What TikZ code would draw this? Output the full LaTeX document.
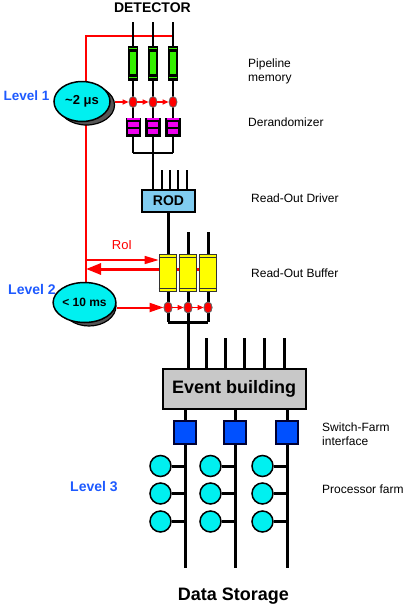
\documentclass[tikz,border=0pt]{standalone}
\usepackage{fontspec}
\setmainfont{Liberation Sans}
\usetikzlibrary{arrows.meta,shapes.geometric,calc}
\definecolor{lvlblue}{RGB}{30,90,255}
\definecolor{cyanfill}{RGB}{0,240,240}
\definecolor{pipegreen}{RGB}{51,240,0}
\definecolor{dermag}{RGB}{240,0,240}
\definecolor{robyellow}{RGB}{255,255,0}
\definecolor{swblue}{RGB}{0,80,255}
\definecolor{rodblue}{RGB}{128,204,240}
\definecolor{evgray}{RGB}{200,200,200}
\definecolor{shadowgray}{RGB}{85,85,85}
\definecolor{sigred}{RGB}{255,0,0}
\tikzset{
  thinwire/.style={line width=1.5pt,black},
  midwire/.style={line width=2.5pt,black},
  wire/.style={line width=3pt,black},
  redwire/.style={sigred,line width=1.5pt},
  lvl/.style={text=lvlblue,font=\bfseries\fontsize{14}{16}\selectfont,anchor=west,inner sep=0pt},
  lbl/.style={font=\fontsize{12}{14}\selectfont,anchor=west,align=left,inner sep=0pt},
  ellnode/.style={ellipse,draw=black,line width=1.5pt,fill=cyanfill,minimum width=56pt,minimum height=40pt,inner sep=0pt},
  ellshadow/.style={ellipse,draw=black,line width=1.2pt,fill=shadowgray,minimum width=56pt,minimum height=40pt,inner sep=0pt},
  reddot/.style={ellipse,fill=sigred,draw=black!60,line width=0.8pt,minimum width=8pt,minimum height=11pt,inner sep=0pt},
  pipebox/.style={rectangle,fill=black,minimum width=10pt,minimum height=35pt,inner sep=0pt},
  derbox/.style={rectangle,fill=black,minimum width=15.5pt,minimum height=18.5pt,inner sep=0pt},
  robbox/.style={rectangle,fill=robyellow,draw=black!80,line width=1.2pt,minimum width=17.5pt,minimum height=37.5pt,inner sep=0pt},
  swbox/.style={rectangle,fill=swblue,draw=black!80!blue,line width=1.5pt,minimum width=22pt,minimum height=23pt,inner sep=0pt},
  procnode/.style={circle,fill=cyanfill,draw=black,line width=1.5pt,minimum size=21pt,inner sep=0pt},
  smallarrow/.style={redwire,-{Triangle[length=6pt,width=5pt]}},
}
\begin{document}
\begin{tikzpicture}[x=1pt,y=-1pt]
\useasboundingbox (0,0) rectangle (404,605);

% ---------------- coordinates -----------------
\foreach \i/\x in {1/133,2/153,3/173}{
  \coordinate (top\i) at (\x,22);
  \coordinate (bj\i) at (\x,153);
}
\coordinate (rtop) at (86,36);
\coordinate (rtopr) at (173,36);
\coordinate (e1pos) at (82,101.5);
\coordinate (e2pos) at (84.5,302.5);

% ---------------- red trigger lines ---------------
\draw[redwire] (rtop |- e1pos) -- (rtop) -- (rtopr);
\draw[redwire] (rtop |- e1pos) -- (rtop |- e2pos);

% ---------------- detector lines ---------------
\foreach \i in {1,2,3}{
  \draw[thinwire] (top\i) -- (bj\i);
}
\draw[thinwire] (bj1) -- (bj3);

% pipeline memory
\foreach \i/\x in {1/133,2/153,3/173}{
  \node[pipebox] (pm\i) at (\x,63) {};
  \fill[pipegreen] ($(pm\i.north west)+(2,6.5)$) rectangle ($(pm\i.south east)+(-2,-6.5)$);
  \draw[pipegreen,line width=1pt] ($(pm\i.north west)+(1.5,3)$) -- ($(pm\i.north east)+(-1.5,3)$);
  \draw[pipegreen,line width=1pt] ($(pm\i.south west)+(1.5,-3)$) -- ($(pm\i.south east)+(-1.5,-3)$);
}
% derandomizer
\foreach \i/\x in {1/133.5,2/153,3/173}{
  \node[derbox] (dr\i) at (\x,127.5) {};
  \fill[dermag] ($(dr\i.north west)+(1.5,0.3)$) rectangle ($(dr\i.north east)+(-1.5,1.8)$);
  \fill[dermag] ($(dr\i.north west)+(2.5,4)$) rectangle ($(dr\i.north east)+(-2.5,8.5)$);
  \fill[dermag] ($(dr\i.north west)+(2.5,10.5)$) rectangle ($(dr\i.north east)+(-2.5,15.5)$);
}
% level-1 red dots
\foreach \i/\x in {1/133,2/153,3/173}{
  \node[reddot] (d1\i) at (\x,102) {};
}

% ---------------- ROD ---------------
\node[rectangle,draw=black,line width=2pt,fill=rodblue,minimum width=53pt,minimum height=22pt,inner sep=0pt,
      font=\bfseries\fontsize{14}{16}\selectfont] (rod) at (168.5,201) {ROD};
\draw[midwire] (bj2) -- (bj2 |- rod.north);
\foreach \i/\x in {1/162,2/170,3/178,4/187}{
  \coordinate (rs\i) at (\x,170);
  \draw[midwire] (rs\i) -- (rs\i |- rod.north);
}

% ---------------- ROB ---------------
\coordinate (roiL) at (200,269);
\coordinate (roiU) at (159,260);
\foreach \i/\x in {1/168,2/188,3/208}{
  \coordinate (rob\i pos) at (\x,273);
  \coordinate (rt\i) at (\x,232);
  \node[reddot] (d2\i) at (\x,307.5) {};
  \coordinate (j2\i) at (\x,322);
}
\draw[wire] (rod.south -| rob1pos) -- (d21) -- (j21);
\draw[wire] (rt2) -- (d22) -- (j22);
\draw[wire] (rt3) -- (d23) -- (j23);
\draw[wire] (j21) -- (j23);
\draw[sigred,line width=3pt,-{Triangle[length=15pt,width=11pt]}] (roiL) -- (rtop |- roiL);
\foreach \i in {1,2,3}{
  \node[robbox] (rob\i) at (rob\i pos) {};
  \draw[black!80,line width=1.2pt] ($(rob\i.north west)+(0,4)$) -- ($(rob\i.north east)+(0,4)$);
  \draw[black!80,line width=1.2pt] ($(rob\i.south west)+(0,-4)$) -- ($(rob\i.south east)+(0,-4)$);
}
\foreach \i in {1,2,3}{ \node[reddot] at (d2\i) {}; }
\draw[redwire,-{Triangle[length=14pt,width=8pt]}] (rtop |- roiU) -- (roiU -| rob1.west);
\node[text=sigred,font=\fontsize{13}{15}\selectfont,inner sep=0pt] (roi) at (122,245) {RoI};

% ---------------- Event building ---------------
\node[rectangle,draw=black,line width=2pt,fill=evgray,minimum width=143pt,minimum height=40pt,inner sep=0pt,
      font=\bfseries\fontsize{18}{20}\selectfont] (ev) at (234.2,389) {Event building};
\draw[wire] (j22) -- (j22 |- ev.north);
\foreach \i/\x in {1/206.7,2/225,3/244,4/264,5/284}{
  \coordinate (es\i) at (\x,338);
  \draw[wire] (es\i) -- (es\i |- ev.north);
}

% ---------------- Switch farm / processors ---------------
\foreach \i/\x/\px in {1/185/160.5,2/235/210.5,3/287/262.5}{
  \coordinate (swpos\i) at (\x,432.5);
  \coordinate (bot\i) at (\x,568);
  \draw[wire] (ev.south -| swpos\i) -- (bot\i);
  \node[swbox] (sw\i) at (swpos\i) {};
  \foreach \j/\y in {1/466,2/493.5,3/521.5}{
    \node[procnode] (p\i\j) at (\px,\y) {};
    \draw[wire] (p\i\j) -- (p\i\j -| sw\i);
  }
}

% ---------------- Level ellipses ---------------
\node[ellshadow] (e1s) at ($(e1pos)+(4.5,3.5)$) {};
\node[ellnode,font=\bfseries\fontsize{13}{15}\selectfont] (e1) at (e1pos) {\textasciitilde2 μs};
\node[ellshadow,minimum width=54pt] (e2s) at ($(e2pos)+(4.5,3.5)$) {};
\node[ellnode,minimum width=54pt,font=\bfseries\fontsize{12}{14}\selectfont] (e2) at (e2pos) {< 10 ms};

% red arrows
\draw[redwire,-{Triangle[length=6pt,width=5pt]}] (e1s.east |- d11) -- (d11);
\draw[smallarrow] (d11) -- (d12);
\draw[smallarrow] (d12) -- (d13);
\draw[sigred,line width=2pt,-{Triangle[length=14pt,width=9pt]}] (e2s.east |- d21) -- (d21);
\draw[smallarrow] (d21) -- (d22);
\draw[smallarrow] (d22) -- (d23);

% ---------------- texts ---------------
\node[font=\bfseries\fontsize{14}{16}\selectfont,inner sep=0pt] (det) at (152.4,7.7) {DETECTOR};
\node[font=\bfseries\fontsize{18}{20}\selectfont,inner sep=0pt,anchor=base] (ds) at (233.5,600) {Data Storage};
\node[lvl,font=\bfseries\fontsize{13.5}{15}\selectfont] (l1) at (3.5,96) {Level 1};
\node[lvl] (l2) at (8,289) {Level 2};
\node[lvl] (l3) at (70,487) {Level 3};
\node[lbl] (t1) at (248,71) {Pipeline\\memory};
\node[lbl] (t2) at (248,122) {Derandomizer};
\node[lbl] (t3) at (251,198) {Read-Out Driver};
\node[lbl] (t4) at (251,273) {Read-Out Buffer};
\node[lbl] (t5) at (322,434) {Switch-Farm\\interface};
\node[lbl] (t6) at (322,489) {Processor farm};
\end{tikzpicture}
\end{document}
